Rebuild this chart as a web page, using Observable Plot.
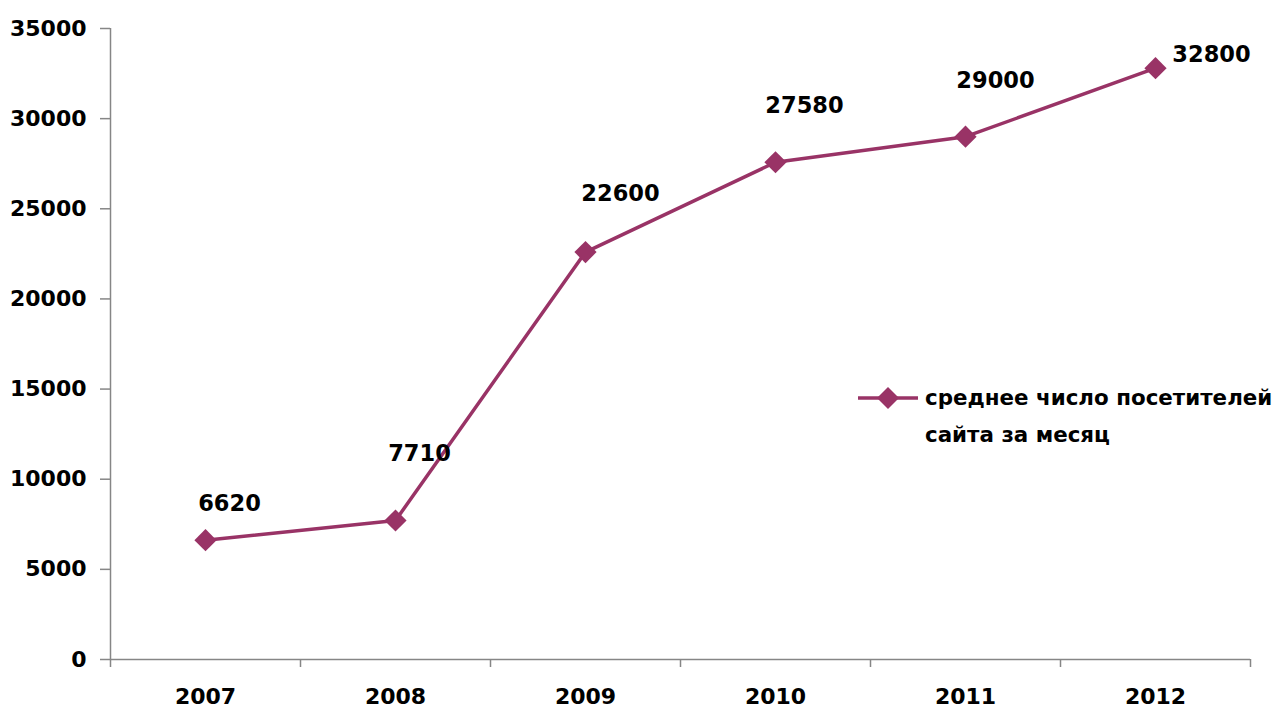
<!DOCTYPE html>
<html>
<head>
<meta charset="utf-8">
<script src="https://cdn.jsdelivr.net/npm/d3@7"></script>
<script src="https://cdn.jsdelivr.net/npm/@observablehq/plot@0.6"></script>
<style>
  html, body { margin: 0; padding: 0; background: #fff; }
  #wrap { position: relative; width: 1275px; height: 710px; }
  #legend { position: absolute; left: 856px; top: 380px; display: flex; align-items: flex-start;
    font-family: "DejaVu Sans", sans-serif; font-weight: bold; font-size: 21.4px; line-height: 37px; color: #000; white-space: nowrap; }
  #legend .txt { margin-left: 5px; margin-top: -1px; }
</style>
</head>
<body>
<div id="wrap">
  <div id="chart"></div>
  <div id="legend"></div>
</div>
<script>
const years = [2007, 2008, 2009, 2010, 2011, 2012];
const visitors = [6620, 7710, 22600, 27580, 29000, 32800];
const yTicks = [0, 5000, 10000, 15000, 20000, 25000, 30000, 35000];
const seriesName = "среднее число посетителей сайта за месяц";
const legendLines = ["среднее число посетителей", "сайта за месяц"];

const data = years.map((year, i) => ({year, value: visitors[i]}));
const boundaries = d3.range(years[0] - 0.5, years[years.length - 1] + 1, 1);

const color = "#993366";
const axisColor = "#868686";
const font = "DejaVu Sans, sans-serif";

// pixel offsets of each hand-placed data label relative to its point
const labelOffsets = [[24, -36], [24, -67], [35, -58], [29, -56], [30, -56], [56, -13]];

const chart = Plot.plot({
  width: 1275,
  height: 710,
  marginLeft: 110,
  marginRight: 25,
  marginTop: 28,
  marginBottom: 51,
  style: {fontFamily: font, fontSize: "22px", fontWeight: "bold", color: "#000", background: "#fff"},
  x: {type: "linear", domain: [boundaries[0], boundaries[boundaries.length - 1]], label: null, axis: null},
  y: {type: "linear", domain: [0, 35000], label: null, axis: null},
  marks: [
    // y axis
    Plot.ruleX([boundaries[0]], {stroke: axisColor, strokeWidth: 1.5}),
    Plot.axisY({ticks: yTicks, label: null, tickSize: 10, tickPadding: 14, stroke: axisColor, strokeWidth: 1.5, strokeOpacity: 1, tickFormat: d => String(d), fontSize: 22, fontWeight: "bold", fill: "#000"}),
    // x axis
    Plot.ruleY([0], {stroke: axisColor, strokeWidth: 1.5}),
    Plot.axisX({ticks: boundaries, label: null, tickSize: 8, tickFormat: () => "", stroke: axisColor, strokeWidth: 1.5, strokeOpacity: 1}),
    Plot.axisX({ticks: years, label: null, tickSize: 0, tickPadding: 29, tickFormat: d => String(d), fontSize: 22, fontWeight: "bold", fill: "#000"}),
    // series
    Plot.line(data, {x: "year", y: "value", stroke: color, strokeWidth: 3.5}),
    Plot.dot(data, {x: "year", y: "value", symbol: "diamond2", r: 10, fill: color, stroke: "none"}),
    ...data.map((d, i) => Plot.text([d], {x: "year", y: "value", text: d => String(d.value),
      dx: labelOffsets[i][0], dy: labelOffsets[i][1], fontSize: 22.5, fontWeight: "bold", fill: "#000"}))
  ]
});
document.getElementById("chart").appendChild(chart);

// legend
const leg = document.getElementById("legend");
leg.setAttribute("aria-label", seriesName);
leg.innerHTML = `<svg width="64" height="36"><line x1="2" x2="62" y1="18" y2="18" stroke="${color}" stroke-width="3.5"/>` +
  `<path d="M32,7 L43,18 L32,29 L21,18 Z" fill="${color}"/></svg>` +
  `<div class="txt">${legendLines.join("<br>")}</div>`;
</script>
</body>
</html>
